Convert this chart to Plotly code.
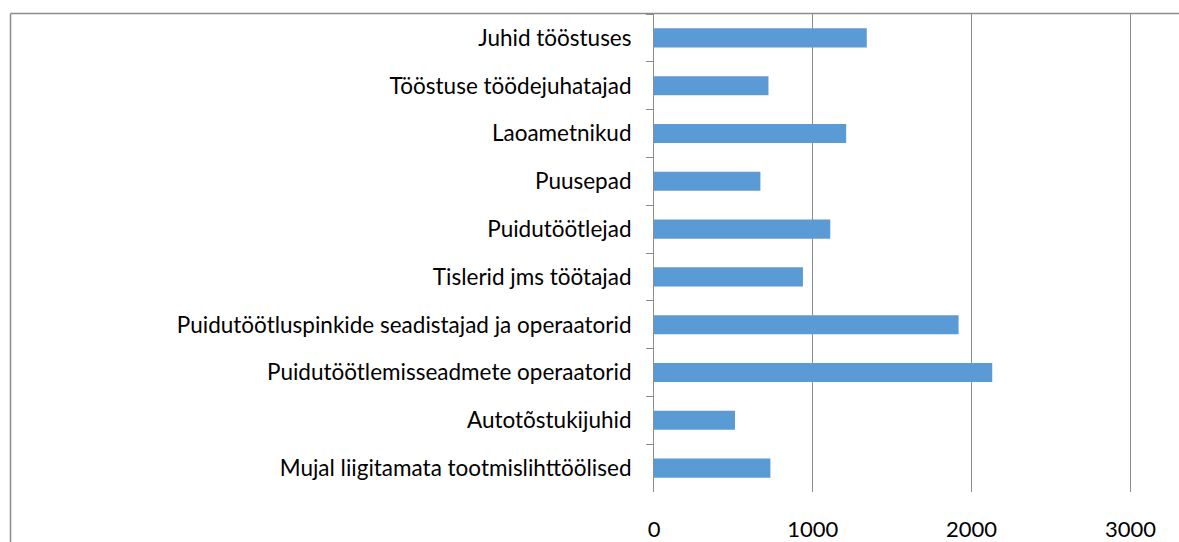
import plotly.graph_objects as go

categories = [
    "Juhid tööstuses",
    "Tööstuse töödejuhatajad",
    "Laoametnikud",
    "Puusepad",
    "Puidutöötlejad",
    "Tislerid jms töötajad",
    "Puidutöötluspinkide seadistajad ja operaatorid",
    "Puidutöötlemisseadmete operaatorid",
    "Autotõstukijuhid",
    "Mujal liigitamata tootmislihttöölised",
]
values = [1340, 721, 1210, 670, 1110, 938, 1918, 2130, 510, 733]
x_ticks = [0, 1000, 2000, 3000]

W, H = 1179, 542
L, R, T, B = 654, 0, 14, 48
plot_w = W - L - R
plot_h = H - T - B

def px_to_paper_x(px):
    return (px - L) / plot_w

def px_to_paper_y(py):
    return (H - B - py) / plot_h

FONT = "Lato"
grey = "#8c8c8c"

fig = go.Figure(
    go.Bar(
        x=values,
        y=categories,
        orientation="h",
        marker=dict(color="#5B9BD5", line=dict(width=0)),
        width=0.4,
    )
)

x_max = x_ticks[-1] * (plot_w / 476.4)

fig.update_layout(
    width=W,
    height=H,
    margin=dict(l=L, r=R, t=T, b=B, pad=0),
    paper_bgcolor="white",
    plot_bgcolor="white",
    showlegend=False,
    font=dict(family=FONT, color="black", size=22.5),
    xaxis=dict(
        range=[0, x_max],
        tickvals=x_ticks,
        ticktext=[str(v) for v in x_ticks],
        showgrid=True,
        gridcolor=grey,
        gridwidth=1,
        zeroline=False,
        showline=False,
        ticks="",
        ticklabelstandoff=22,
        tickfont=dict(size=22, family=FONT),
        fixedrange=True,
    ),
    yaxis=dict(
        categoryorder="array",
        categoryarray=categories,
        autorange="reversed",
        tickson="boundaries",
        ticks="outside",
        ticklen=7,
        tickcolor=grey,
        tickwidth=1,
        showline=True,
        linecolor=grey,
        linewidth=1,
        showgrid=False,
        tickfont=dict(size=22.5, family=FONT),
        ticklabelstandoff=17,
        fixedrange=True,
    ),
    shapes=[
        dict(type="line", xref="paper", yref="paper",
             x0=px_to_paper_x(10.5), x1=px_to_paper_x(1185),
             y0=px_to_paper_y(13.5), y1=px_to_paper_y(13.5),
             line=dict(color=grey, width=1.5)),
        dict(type="line", xref="paper", yref="paper",
             x0=px_to_paper_x(10.5), x1=px_to_paper_x(10.5),
             y0=px_to_paper_y(13.5), y1=px_to_paper_y(560),
             line=dict(color=grey, width=1.5)),
    ],
)

fig.write_html(
    "out.html",
    config={"displayModeBar": False},
    post_script="document.body.style.margin='0';document.body.style.overflow='hidden';",
)
